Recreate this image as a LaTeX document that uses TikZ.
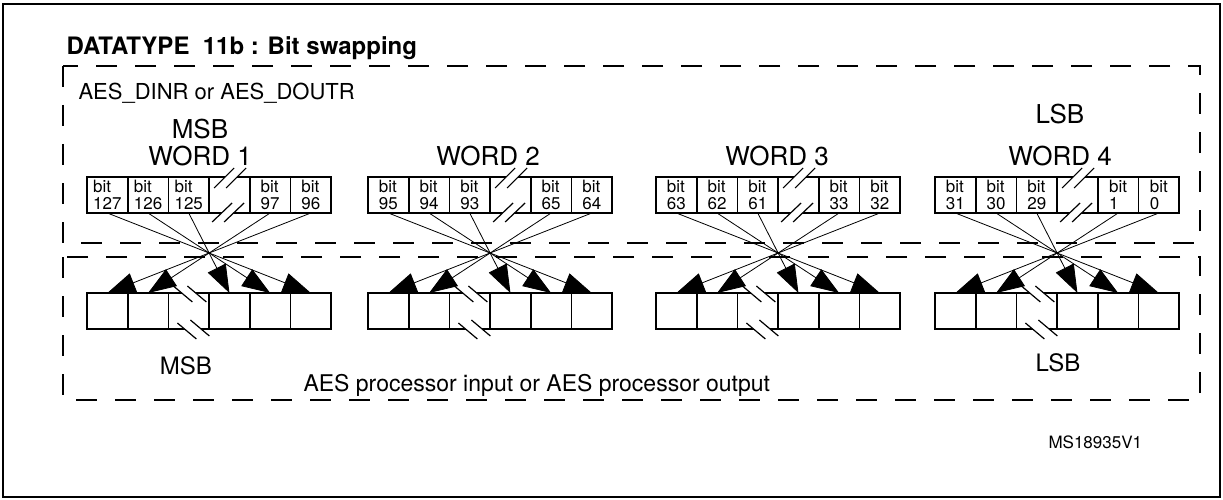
\documentclass[tikz,border=0pt]{standalone}
\usepackage{fontspec}
\setmainfont{TeX Gyre Heros}
\usetikzlibrary{arrows.meta}

\begin{document}
\begin{tikzpicture}[x=1pt,y=-1pt,
    cell/.style={draw,line width=1.6pt,minimum width=40.7pt,minimum height=36pt,
                 inner sep=0pt,outer sep=0pt,anchor=north west,
                 font=\fontsize{17}{17}\selectfont,align=left},
    lbl/.style={font=\fontsize{26}{30}\selectfont,anchor=base,inner sep=1pt},
    dashbox/.style={line width=1.8pt,dash pattern=on 21pt off 18pt},
    swap/.style={-{Triangle[length=28pt,width=20pt]},line width=0.8pt},
    brk/.style={line width=1.2pt}
  ]
  \useasboundingbox (0,0) rectangle (1223,500);
  \draw[line width=1.5pt] (3,4) rectangle (1220,497);

  \node[font=\bfseries\fontsize{24}{28}\selectfont,anchor=base west] (title) at (63,55)
    {DATATYPE\ \ 11b : Bit swapping};

  % register side and processor side
  \draw[dashbox] (63,66) rectangle (1200,243);
  \draw[dashbox] (63,257) rectangle (1200,400);
  \node[font=\fontsize{22}{26}\selectfont,anchor=base west] (reg) at (75,100) {AES\_DINR or AES\_DOUTR};
  \node[font=\fontsize{23}{26}\selectfont,anchor=base west] (proc) at (300,391) {AES processor input or AES processor output};

  \foreach \w/\L/\ba/\bb/\bc/\bd/\be in {1/87/127/126/125/97/96, 2/368/95/94/93/65/64,
                                        3/656/63/62/61/33/32, 4/935/31/30/29/1/0}{
    % input word
    \foreach \k/\t in {0/\ba,1/\bb,2/\bc,4/\bd,5/\be}
      \node[cell] (t\w\k) at (\L+\k*40.7,177) {bit\\\t};
    \node[cell] (t\w3) at (\L+3*40.7,177) {};
    % output word
    \foreach \k in {0,...,5}
      \node[cell] (b\w\k) at (\L+\k*40.7,293) {};
    % breaks
    \begin{scope}[shift={(t\w3.north west)}]
      \fill[white] (5,11) -- (25,-9) -- (37,-9) -- (17,11) -- cycle;
      \fill[white] (3,45) -- (23,26) -- (35,26) -- (15,45) -- cycle;
      \draw[brk] (5,11) -- (25,-9) (17,11) -- (37,-9);
      \draw[brk] (3,45) -- (23,26) (15,45) -- (35,26);
    \end{scope}
    \begin{scope}[shift={(b\w2.north west)}]
      \fill[white] (5,-7) -- (24,9) -- (38,9) -- (19,-7) -- cycle;
      \fill[white] (9,30) -- (28,46) -- (41,43) -- (22,27) -- cycle;
      \draw[brk] (5,-7) -- (24,9) (19,-7) -- (38,9);
      \draw[brk] (9,30) -- (28,46) (22,27) -- (41,43);
    \end{scope}
    % swapped bits
    \foreach \k [evaluate=\k as \m using int(5-\k)] in {0,1,2,4,5}
      \draw[swap] (t\w\k.south) -- (b\w\m.north);
  }

  \node[lbl] (msbtop) at (200,139) {MSB};
  \node[lbl] (word1) at (200,165) {WORD 1};
  \node[lbl] (word2) at (488,165) {WORD 2};
  \node[lbl] (word3) at (777,165) {WORD 3};
  \node[lbl] (lsbtop) at (1060,124) {LSB};
  \node[lbl] (word4) at (1060,165) {WORD 4};
  \node[lbl,font=\fontsize{24}{28}\selectfont] (msbbot) at (186,374) {MSB};
  \node[lbl,font=\fontsize{24}{28}\selectfont] (lsbbot) at (1058,371) {LSB};

  \node[font=\fontsize{17}{20}\selectfont,anchor=base west] (ref) at (1045,448) {MS18935V1};
\end{tikzpicture}
\end{document}
